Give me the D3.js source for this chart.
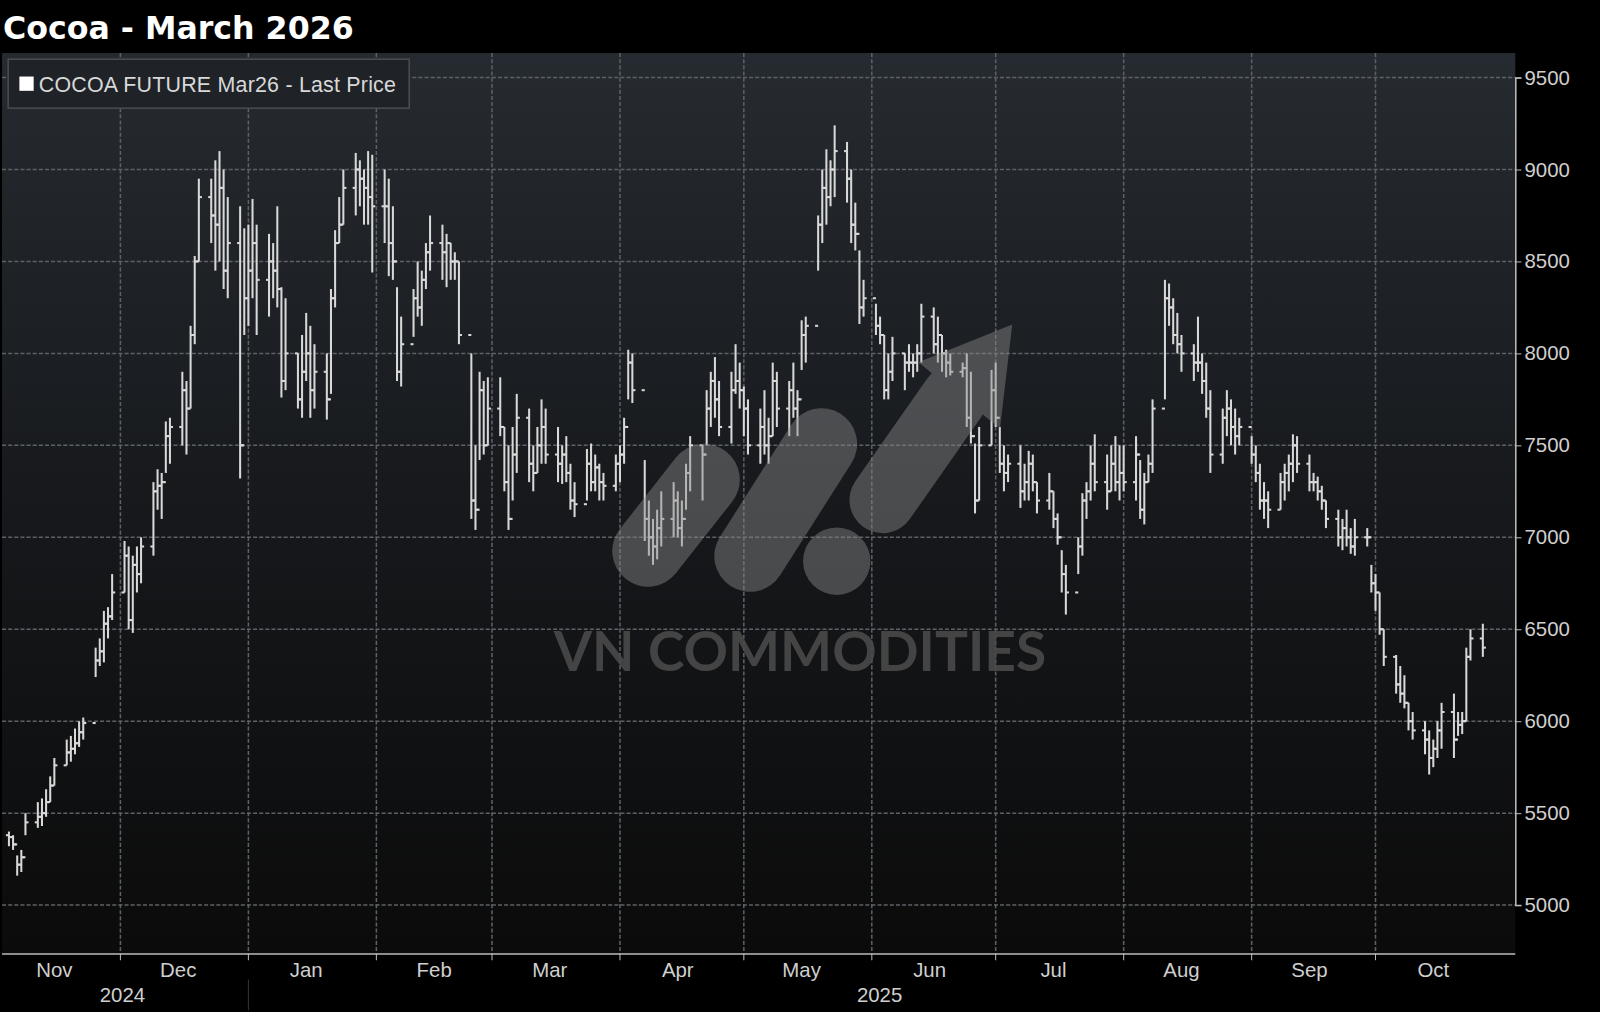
<!DOCTYPE html>
<html><head><meta charset="utf-8">
<script src="https://cdn.jsdelivr.net/npm/d3@7"></script>
<style>html,body{margin:0;padding:0;background:#000;}svg{display:block;}</style>
</head><body><svg id="c" width="1600" height="1012"></svg>
<script>
const title = "Cocoa - March 2026";
const legendLabel = "COCOA FUTURE Mar26 - Last Price";
const yTicks = [5000,5500,6000,6500,7000,7500,8000,8500,9000,9500];
const monthLabels = ["Nov","Dec","Jan","Feb","Mar","Apr","May","Jun","Jul","Aug","Sep","Oct"];
// daily [high, low, close] per month, one entry per weekday
const nov24 = [[5420,5330,5380],[5400,5320,5370],[5380,5300,5330],[5270,5160,5220],[5300,5180,5260],[5500,5380,5450],[5560,5420,5480],[5580,5430,5500],[5630,5480,5560],[5700,5560,5650],[5800,5650,5760],[5900,5760,5830],[5920,5780,5850],[5960,5820,5880],[6000,5860,5940],[6020,5900,5990],[6400,6240,6330],[6450,6300,6380],[6600,6320,6530],[6620,6450,6570],[6800,6550,6700]];
const dec24 = [[6980,6700,6900],[6950,6500,6550],[6900,6480,6850],[6950,6700,6800],[7000,6750,6950],[7300,6900,7250],[7370,7150,7280],[7350,7100,7300],[7630,7350,7550],[7650,7400,7600],[7900,7500,7800],[7850,7450,7700],[8150,7700,8100],[8530,8050,8500],[8950,8500,8850],[8950,8600,8750],[9050,8450,8700],[9100,8500,8900],[9000,8350,8450],[8850,8300,8600],[8800,7320,7500],[8680,8100,8300]];
const jan25 = [[8700,8150,8450],[8840,8300,8600],[8700,8100,8400],[8650,8200,8500],[8600,8300,8450],[8800,8250,8350],[8360,7760,7850],[8300,7800,8000],[8000,7700,7750],[8100,7650,7900],[8220,7850,8000],[8150,7650,7800],[8050,7700,7900],[8000,7640,7750],[8350,7780,8300],[8670,8250,8600],[8850,8600,8700],[9000,8700,8900],[9090,8750,9000],[9050,8800,8950],[9000,8700,8900],[9100,8700,8850],[9080,8440,8800]];
const feb25 = [[9000,8600,8800],[8950,8420,8600],[8800,8400,8500],[8360,7850,7900],[8200,7820,8050],[8350,8090,8300],[8500,8200,8250],[8450,8150,8400],[8600,8350,8550],[8750,8450,8600],[8700,8400,8550],[8650,8360,8600],[8600,8400,8500],[8550,8400,8500],[8500,8050,8100],[8000,7100,7200],[7500,7040,7150],[7900,7420,7800],[7850,7450,7500],[7870,7500,7700]];
const mar25 = [[7870,7550,7600],[7600,7250,7300],[7500,7040,7100],[7600,7200,7450],[7780,7350,7650],[7700,7300,7400],[7500,7250,7350],[7600,7350,7500],[7750,7400,7600],[7700,7400,7450],[7600,7300,7400],[7500,7290,7450],[7550,7300,7350],[7400,7150,7200],[7300,7110,7180],[7480,7200,7400],[7510,7250,7300],[7450,7250,7380],[7400,7200,7300],[7350,7200,7280],[7450,7250,7400]];
const apr25 = [[7500,7300,7450],[7650,7400,7600],[8020,7750,7950],[8000,7730,7800],[7420,6980,7100],[7200,6900,7000],[7100,6850,6950],[7150,6880,7050],[7250,6950,7100],[7300,7000,7200],[7250,7000,7050],[7200,6950,7100],[7400,7150,7350],[7550,7250,7500],[7500,7200,7450],[7800,7500,7700],[7900,7600,7850],[7980,7650,7750],[7850,7550,7600],[7900,7510,7800],[8050,7780,7850],[7950,7700,7800]];
const may25 = [[7820,7550,7700],[7750,7450,7500],[7700,7400,7600],[7800,7450,7500],[7650,7400,7550],[7950,7550,7850],[7900,7600,7700],[7850,7550,7800],[7950,7650,7700],[7800,7550,7750],[8180,7910,8100],[8200,7950,8150],[8750,8450,8700],[9000,8600,8900],[9110,8700,8850],[9050,8800,9000],[9240,8850,9100],[9150,8820,8950],[9000,8600,8700],[8820,8560,8650],[8560,8160,8250],[8400,8200,8300]];
const jun25 = [[8270,8100,8150],[8200,8050,8100],[8100,7750,7800],[8000,7750,7900],[8090,7850,8000],[8000,7800,7950],[8050,7900,7950],[8000,7870,7950],[8050,7900,8000],[8270,7950,8200],[8250,8000,8050],[8200,7950,8100],[8100,7900,8000],[8020,7870,7950],[8000,7880,7900],[7950,7870,7920],[8000,7600,7650],[7900,7510,7550],[7510,7130,7200],[7600,7200,7500],[7910,7500,7800]];
const jul25 = [[7950,7600,7650],[7600,7350,7400],[7500,7250,7350],[7450,7300,7400],[7500,7160,7250],[7400,7200,7300],[7470,7200,7400],[7450,7250,7300],[7300,7130,7200],[7350,7150,7250],[7250,7050,7100],[7130,6960,7000],[6930,6700,6800],[6850,6580,6700],[7000,6800,6950],[7240,6900,7200],[7300,7100,7250],[7500,7200,7400],[7560,7250,7300],[7450,7150,7250],[7500,7250,7400],[7550,7250,7300],[7500,7200,7350]];
const aug25 = [[7500,7250,7300],[7550,7200,7450],[7420,7100,7150],[7350,7070,7300],[7450,7300,7400],[7750,7350,7700],[8400,7750,8300],[8380,8150,8250],[8300,8050,8100],[8220,8000,8050],[8100,7900,8000],[8050,7850,7950],[8200,7900,7950],[8000,7780,7850],[7950,7650,7700],[7800,7350,7450],[7700,7400,7650],[7800,7550,7700],[7750,7500,7600],[7700,7450,7550],[7650,7500,7600]];
const sep25 = [[7550,7400,7450],[7500,7300,7350],[7400,7150,7200],[7300,7100,7200],[7250,7050,7150],[7350,7150,7300],[7400,7200,7350],[7450,7250,7400],[7560,7300,7500],[7550,7350,7400],[7450,7250,7300],[7350,7250,7300],[7330,7200,7250],[7280,7150,7200],[7200,7050,7100],[7150,6950,7000],[7100,6930,7050],[7150,6950,7000],[7050,6910,6950],[7100,6900,7000],[7050,6950,7000],[6850,6700,6750]];
const oct25 = [[6800,6600,6700],[6700,6470,6500],[6500,6300,6350],[6360,6150,6200],[6300,6100,6150],[6250,6070,6100],[6100,5950,6000],[6050,5900,5950],[6000,5820,5900],[5950,5710,5800],[5900,5750,5850],[6000,5800,5950],[6100,5850,6050],[6150,5800,5900],[6050,5920,5980],[6050,5930,6000],[6400,6000,6350],[6500,6330,6450],[6530,6350,6400]];
const months = [[2024,10,nov24],[2024,11,dec24],[2025,0,jan25],[2025,1,feb25],[2025,2,mar25],[2025,3,apr25],[2025,4,may25],[2025,5,jun25],[2025,6,jul25],[2025,7,aug25],[2025,8,sep25],[2025,9,oct25]];

const bars = [];
months.forEach(([yr,mo,arr])=>{
  let d = new Date(yr,mo,1), i=0;
  while(i<arr.length && d.getMonth()===mo){
    const wd=d.getDay();
    if(wd>0&&wd<6){bars.push({date:new Date(d),h:arr[i][0],l:arr[i][1],c:arr[i][2]});i++;}
    d.setDate(d.getDate()+1);
  }
});
bars.forEach((b,i)=>{b.o = i>0?bars[i-1].c:b.c;});

const root = d3.select("#c");
root.append("rect").attr("width",1600).attr("height",1012).attr("fill","#000");
const svg = root.append("g").attr("transform","scale(1.0204)");
const PL=2, PR=1485, PT=52, PB=935;
const x = d3.scaleTime().domain([new Date(2024,11,1),new Date(2025,9,1)]).range([118,1348]);
const y = d3.scaleLinear().domain([5000,9500]).range([887,76]);

const defs = root.append("defs");
const g = defs.append("linearGradient").attr("id","bg").attr("x1",0).attr("x2",0).attr("y1",0).attr("y2",1);
g.append("stop").attr("offset","0%").attr("stop-color","#262b31");
g.append("stop").attr("offset","55%").attr("stop-color","#15171a");
g.append("stop").attr("offset","100%").attr("stop-color","#0b0b0b");

svg.append("rect").attr("x",PL).attr("y",PT).attr("width",PR-PL).attr("height",PB-PT).attr("fill","url(#bg)");

svg.append("text").attr("x",3).attr("y",38).attr("fill","#fff").attr("font-family","DejaVu Sans, sans-serif")
  .attr("font-weight","bold").attr("font-size",31).text(title);

const grid = svg.append("g").attr("stroke","#5d6166").attr("stroke-width",1.5).attr("stroke-dasharray","4,2");
yTicks.forEach(t=>grid.append("line").attr("x1",PL).attr("x2",PR).attr("y1",y(t)).attr("y2",y(t)));
const monthStarts = d3.timeMonth.range(new Date(2024,11,1), new Date(2025,10,1));
monthStarts.forEach(m=>grid.append("line").attr("x1",x(m)).attr("x2",x(m)).attr("y1",PT).attr("y2",PB));

const ax = svg.append("g").attr("transform",`translate(${PR},0)`)
  .call(d3.axisRight(y).tickValues(yTicks).tickSize(6).tickPadding(3).tickFormat(d3.format("d")));
ax.select(".domain").attr("stroke","#bbb").attr("stroke-width",1.5);
ax.selectAll(".tick line").attr("stroke","#bbb");
ax.selectAll("text").attr("fill","#cfcfcf").attr("font-size",20).attr("font-family","Liberation Sans, Arial, sans-serif");

svg.append("line").attr("x1",PL).attr("x2",PR).attr("y1",PB).attr("y2",PB).attr("stroke","#bbb").attr("stroke-width",1.5);
const monthMids = d3.timeMonth.range(new Date(2024,10,1), new Date(2025,10,1)).map(m=>new Date(m.getFullYear(),m.getMonth(),15));
svg.append("g").selectAll("text").data(monthMids).join("text")
  .attr("x",d=>x(d)).attr("y",957).attr("text-anchor","middle").attr("fill","#cfcfcf")
  .attr("font-size",20).attr("font-family","Liberation Sans, Arial, sans-serif").text((d,i)=>monthLabels[i]);
monthStarts.forEach(m=>svg.append("line").attr("x1",x(m)).attr("x2",x(m)).attr("y1",PB).attr("y2",PB+6).attr("stroke","#bbb"));
svg.append("line").attr("x1",x(new Date(2025,0,1))).attr("x2",x(new Date(2025,0,1))).attr("y1",PB+25).attr("y2",990).attr("stroke","#333");
svg.append("text").attr("x",120).attr("y",982).attr("text-anchor","middle").attr("fill","#cfcfcf").attr("font-size",20).attr("font-family","Liberation Sans, Arial, sans-serif").text("2024");
svg.append("text").attr("x",862).attr("y",982).attr("text-anchor","middle").attr("fill","#cfcfcf").attr("font-size",20).attr("font-family","Liberation Sans, Arial, sans-serif").text("2025");

const bg = svg.append("g").attr("stroke","#d8d8d8").attr("stroke-width",2);
bars.forEach(b=>{
  const cx = x(b.date);
  bg.append("line").attr("x1",cx).attr("x2",cx).attr("y1",y(b.h)).attr("y2",y(b.l));
  bg.append("line").attr("x1",cx-3).attr("x2",cx).attr("y1",y(b.o)).attr("y2",y(b.o));
  bg.append("line").attr("x1",cx).attr("x2",cx+3).attr("y1",y(b.c)).attr("y2",y(b.c));
});

const wm = svg.append("g").attr("opacity",0.45);
wm.append("line").attr("x1",635).attr("y1",540).attr("x2",690).attr("y2",470).attr("stroke","#8a8a8a").attr("stroke-width",70).attr("stroke-linecap","round");
wm.append("line").attr("x1",735).attr("y1",545).attr("x2",805).attr("y2",435).attr("stroke","#8a8a8a").attr("stroke-width",70).attr("stroke-linecap","round");
wm.append("circle").attr("cx",820).attr("cy",550).attr("r",33).attr("fill","#8a8a8a");
wm.append("line").attr("x1",865).attr("y1",490).attr("x2",935).attr("y2",390).attr("stroke","#8a8a8a").attr("stroke-width",65).attr("stroke-linecap","round");
wm.append("path").attr("d","M900,355 L992,318 L980,420 Z").attr("fill","#8a8a8a");
svg.append("text").attr("x",784).attr("y",658).attr("text-anchor","middle").attr("fill","#4a4a4a").attr("opacity",0.9)
  .attr("font-size",54).attr("font-weight","bold").attr("font-family","Lato, Open Sans, sans-serif").text("VN COMMODITIES");

svg.append("rect").attr("x",8).attr("y",58).attr("width",393).attr("height",48).attr("fill","#1f2328").attr("stroke","#4a4e53").attr("stroke-width",1.5);
svg.append("rect").attr("x",19).attr("y",75).attr("width",14).attr("height",14).attr("fill","#fff");
svg.append("text").attr("x",38).attr("y",90).attr("fill","#d8d8d8").attr("font-size",21).attr("textLength",350).attr("font-family","Liberation Sans, Arial, sans-serif").text(legendLabel);
</script></body></html>
